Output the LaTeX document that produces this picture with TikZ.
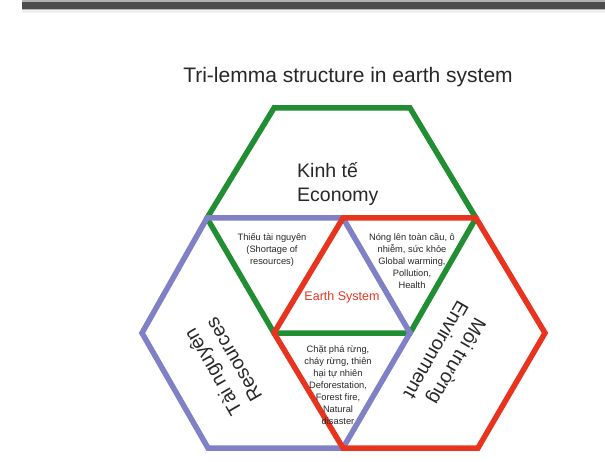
\documentclass[tikz,border=0pt]{standalone}
\usepackage{fontspec}
\setmainfont{Liberation Sans}
\definecolor{ecogreen}{RGB}{34,142,52}
\definecolor{resblue}{RGB}{128,128,198}
\definecolor{envred}{RGB}{232,52,30}
\definecolor{bardark}{RGB}{76,76,76}
\definecolor{txtgray}{RGB}{40,40,40}
\tikzset{
  hexline/.style={line width=5.5pt, line join=miter},
  smalltext/.style={font=\fontsize{9.3}{12}\selectfont, align=center, inner sep=0pt, text=txtgray},
  bigtext/.style={font=\fontsize{19.5}{24}\selectfont, align=center, inner sep=0pt, text=txtgray},
}
\begin{document}
\begin{tikzpicture}[x=1pt,y=-1pt]
\useasboundingbox (0,0) rectangle (605,462);
\fill[white] (0,0) rectangle (605,462);
% top bar
\fill[bardark] (22,1) rectangle (605,10);
\fill[gray!60] (22,0.5) rectangle (605,1.8);
\fill[gray!55] (22,9) rectangle (605,10.5);
\fill[gray!12] (22,10.5) rectangle (605,13);
% grid points
\coordinate (G1) at (274,108);
\coordinate (G2) at (410,108);
\coordinate (A) at (207,218);
\coordinate (B) at (343,218);
\coordinate (C) at (476,218);
\coordinate (L) at (142,333);
\coordinate (D) at (274,333);
\coordinate (E) at (410,333);
\coordinate (R) at (545,333);
\coordinate (BL) at (208,448);
\coordinate (F) at (343,448);
\coordinate (RB) at (478,448);
% title
\node[font=\fontsize{21}{25}\selectfont, text=txtgray, inner sep=0pt] (title) at (348,77) {Tri-lemma structure in earth system};
% hexagons
\draw[hexline, ecogreen] (A) -- (G1) -- (G2) -- (C) -- (E) -- (D) -- cycle;
\draw[hexline, resblue] (A) -- (B) -- (E) -- (F) -- (BL) -- (L) -- cycle;
\draw[hexline, envred] (B) -- (C) -- (R) -- (RB) -- (F) -- (D) -- cycle;
% labels
\node[bigtext, align=left, anchor=west] (eco) at (297,184) {Kinh tế\\Economy};
\node[bigtext, rotate=120] (res) at (223,366) {Tài nguyên\\Resources};
\node[bigtext, rotate=240] (env) at (447,356) {Môi trường\\Environment};
\node[font=\fontsize{12.5}{14}\selectfont, text=envred, inner sep=0pt] (earth) at (342,297) {Earth System};
\node[smalltext] (short) at (272,249.5) {Thiếu tài nguyên\\(Shortage of\\resources)};
\node[smalltext] (warm) at (412,261) {Nóng lên toàn cầu, ô\\nhiễm, sức khỏe\\Global warming,\\Pollution,\\Health};
\node[smalltext] (defo) at (338,385.5) {Chặt phá rừng,\\cháy rừng, thiên\\hại tự nhiên\\Deforestation,\\Forest fire,\\Natural\\disaster};
\end{tikzpicture}
\end{document}
